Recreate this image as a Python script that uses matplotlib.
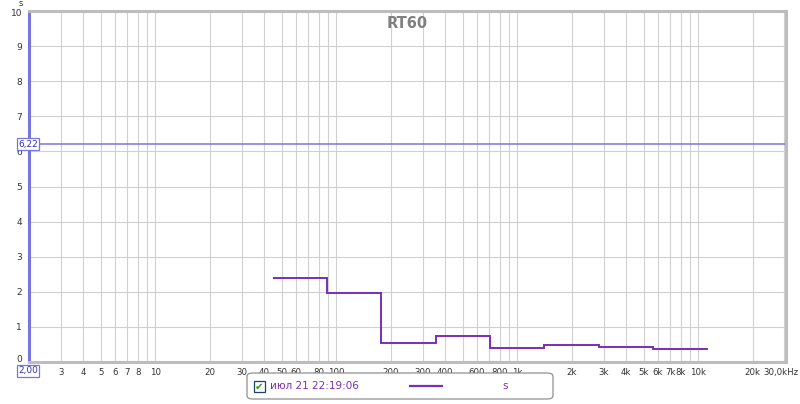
import matplotlib
matplotlib.use("Agg")
import matplotlib.pyplot as plt
import matplotlib.transforms as mtrans
from matplotlib.patches import FancyBboxPatch, Rectangle
from matplotlib.lines import Line2D

# ---- data ----
band_edges = [44.7, 88.4, 177, 354, 707, 1414, 2828, 5657, 11314]
rt60_values = [2.40, 1.98, 0.53, 0.73, 0.39, 0.48, 0.43, 0.38]
marker_value = 6.22
x_tick_values = [3, 4, 5, 6, 7, 8, 10, 20, 30, 40, 50, 60, 80, 100, 200, 300, 400,
                 600, 800, 1000, 2000, 3000, 4000, 5000, 6000, 7000, 8000, 10000, 20000, 30000]
x_tick_labels = ["3", "4", "5", "6", "7", "8", "10", "20", "30", "40", "50", "60", "80", "100",
                 "200", "300", "400", "600", "800", "1k", "2k", "3k", "4k", "5k", "6k", "7k", "8k",
                 "10k", "20k", "30,0kHz"]
y_ticks = list(range(0, 11))
legend_label = "июл 21 22:19:06"
unit_label = "s"
title = "RT60"

line_color = "#7b2cb8"
blue = "#7676dc"
grid_color = "#d0d0d0"
text_color = "#333333"

plt.rcParams['font.family'] = ['DejaVu Sans']
fig = plt.figure(figsize=(8, 4.04), dpi=100)
L, R, B, T = 29 / 800, 786 / 800, 1 - 362 / 404, 1 - 11 / 404
ax = fig.add_axes([L, B, R - L, T - B])
ax.set_xscale("log")
ax.set_xlim(2, 30600)
ax.set_ylim(0, 10)

# grid lines
grid_x = [m * 10 ** d for d in range(0, 5) for m in range(1, 10) if 2 <= m * 10 ** d <= 30000]
for gx in grid_x:
    ax.axvline(gx, color=grid_color, lw=0.8, zorder=0)
for gy in y_ticks:
    ax.axhline(gy, color=grid_color, lw=0.8, zorder=0)

ax.set_xticks(x_tick_values)
ax.set_xticklabels(x_tick_labels)
ax.xaxis.set_minor_locator(matplotlib.ticker.NullLocator())
ax.set_yticks(y_ticks)
ax.set_yticklabels([str(v) for v in y_ticks])
ax.tick_params(axis="both", length=0, labelsize=6.5, colors=text_color)
ax.tick_params(axis="x", pad=4, labelsize=6.2)
ax.tick_params(axis="y", pad=5)

# shift edge labels
xl = ax.get_xticklabels()
xl[-1].set_transform(xl[-1].get_transform() + mtrans.ScaledTranslation(-3 / 100, 0, fig.dpi_scale_trans))
yl = ax.get_yticklabels()
yl[0].set_transform(yl[0].get_transform() + mtrans.ScaledTranslation(0, 3 / 100, fig.dpi_scale_trans))
yl[-1].set_transform(yl[-1].get_transform() + mtrans.ScaledTranslation(0, -1 / 100, fig.dpi_scale_trans))

for s in ["top", "right", "bottom"]:
    ax.spines[s].set_color("#bdbdbd")
ax.spines["top"].set_linewidth(2.2)
ax.spines["right"].set_linewidth(2.2)
ax.spines["bottom"].set_linewidth(2.2)
ax.spines["left"].set_color(blue)
ax.spines["left"].set_linewidth(2.2)

# marker line
ax.axhline(marker_value, color=blue, lw=1.1, zorder=2)

# data
ax.stairs(rt60_values, band_edges, color=line_color, lw=1.4, zorder=3, baseline=None)

# title
ax.text(0.5, 0.985, title, transform=ax.transAxes, ha="center", va="top",
        fontsize=10.5, fontweight="bold", color="#808080")

# unit label
fig.text(21 / 800, 1 - 3 / 404, unit_label, ha="center", va="center", fontsize=6, color=text_color)

# boxed labels
fig.text(28 / 800, 1 - 144 / 404, "6,22", ha="center", va="center", fontsize=6.5, color="#3030c0",
         bbox=dict(boxstyle="square,pad=0.15", fc="white", ec=blue, lw=0.9), zorder=10)
fig.text(28 / 800, 1 - 371 / 404, "2,00", ha="center", va="center", fontsize=6.5, color="#3030c0",
         bbox=dict(boxstyle="square,pad=0.15", fc="white", ec=blue, lw=0.9), zorder=10)

# legend
lx0, ly0, lw_, lh_ = 247, 373, 306, 26
box = FancyBboxPatch((lx0 / 800, 1 - (ly0 + lh_) / 404), lw_ / 800, lh_ / 404,
                     boxstyle="round,pad=0,rounding_size=0.008", transform=fig.transFigure,
                     fc="white", ec="#909090", lw=0.9)
fig.patches.append(box)
cb = Rectangle((254 / 800, 1 - 392 / 404), 11 / 800, 11 / 404, transform=fig.transFigure,
               fc="white", ec="#204060", lw=0.9)
fig.patches.append(cb)
fig.text(259.5 / 800, 1 - 386.5 / 404, "✔", ha="center", va="center", fontsize=7.5, color="#20a020")
fig.text(270 / 800, 1 - 386 / 404, legend_label, ha="left", va="center", fontsize=7.5, color=line_color)
fig.lines.append(Line2D([410 / 800, 442 / 800], [1 - 386 / 404, 1 - 386 / 404],
                        transform=fig.transFigure, color=line_color, lw=1.6))
fig.text(505 / 800, 1 - 386 / 404, unit_label, ha="center", va="center", fontsize=7.5, color=line_color)

fig.savefig("out.png", dpi=100)
